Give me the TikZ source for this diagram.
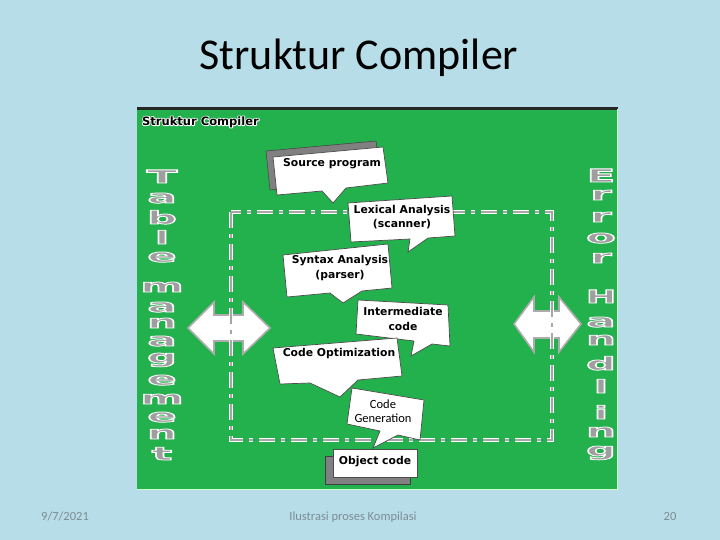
\documentclass[tikz,border=0pt]{standalone}
\usepackage{fontspec}
\setmainfont{Carlito}
\newfontfamily\dejavu{DejaVu Sans}
\usepackage{graphicx}
\newcommand\outltext[2]{\special{pdf:literal direct 2 Tr #1 w 1 1 1 RG}#2\special{pdf:literal direct 0 Tr}}
\newcommand\halotext[2]{\special{pdf:literal direct 1 Tr #1 w 1 1 1 RG 1 J 1 j}#2\special{pdf:literal direct 0 Tr}}
\definecolor{slidebg}{RGB}{183,221,232}
\definecolor{imggreen}{RGB}{34,177,76}
\definecolor{lettergray}{RGB}{158,158,158}
\definecolor{shadowgray}{RGB}{128,128,128}
\definecolor{footgray}{RGB}{125,140,148}
\tikzset{
  callout/.style={fill=white, draw=gray!60!black, line width=0.7pt},
  shadowbox/.style={fill=shadowgray, draw=gray!50!black, line width=0.5pt},
  ctext/.style={font=\dejavu\bfseries\fontsize{10.8}{14.5}\selectfont, align=center, inner sep=0pt, text=black},
  gtext/.style={font=\fontsize{12.5}{14.5}\selectfont, align=center, inner sep=0pt, text=black},
  bigarrow/.style={fill=white, draw=gray!65, line width=1.6pt, line join=miter},
  dashout/.style={draw=white, line width=4.4pt, dash pattern=on 16pt off 6pt on 4pt off 6pt},
  dashin/.style={draw=gray!70, line width=2pt, dash pattern=on 16pt off 6pt on 4pt off 6pt},
  vletter/.style={font=\dejavu\bfseries\fontsize{18}{20}\selectfont, text=lettergray, inner sep=0pt, anchor=base},
  foot/.style={font=\fontsize{12.5}{14}\selectfont, text=footgray, anchor=base, inner sep=0pt},
  innerlabel/.style={font=\dejavu\bfseries\fontsize{11.5}{14}\selectfont, anchor=west, inner sep=0pt}
}
\begin{document}
\begin{tikzpicture}[x=1pt,y=-1pt]
\useasboundingbox (0,0) rectangle (720,540);
\fill[slidebg] (0,0) rectangle (720,540);
% title
\node[font=\fontsize{44}{50}\selectfont, anchor=base, inner sep=0pt] (title) at (359,70) {Struktur Compiler};
% picture area
\fill[imggreen] (137,108) rectangle (618,490);
\draw[black!85, line width=2.5pt] (137,108.5) -- (618,108.5);
\draw[green!20!white, line width=1pt] (137,489.5) -- (618,489.5);
\draw[green!15!white, line width=1pt] (617.5,109) -- (617.5,490);
% inner label: white halo under black text
\node[innerlabel, text=white] (innerhalo) at (142,122) {\halotext{1.8}{Struktur Compiler}};
\node[innerlabel] (inner) at (142,122) {Struktur Compiler};
% double arrows
\draw[bigarrow] (188,328) -- (214,302) -- (214,315) -- (243,315) -- (243,302) -- (270,328)
  -- (243,354) -- (243,341) -- (214,341) -- (214,354) -- cycle;
\coordinate (leftarrow) at (229,328);
\draw[bigarrow] (514,324) -- (534,297) -- (534,311) -- (559,311) -- (559,297) -- (581,324)
  -- (559,352) -- (559,338) -- (534,338) -- (534,352) -- cycle;
\coordinate (rightarrow) at (547,324);
% dash-dot frame
\draw[dashout] (231,212) rectangle (552,440);
\draw[dashin] (231,212) rectangle (552,440);
% 1 Source program
\draw[shadowbox] (266,151) -- (376,141) -- (381,177) -- (270,190) -- cycle;
\draw[callout] (273,157) -- (383,147) -- (388,183) -- (346,188) -- (333,203) -- (322,191) -- (277,195) -- cycle;
\node[ctext] (src) at (332,164) {Source program};
% 2 Lexical
\draw[callout] (348,203) -- (452,196) -- (455,236) -- (428,238) -- (408,252) -- (410,239) -- (351,242) -- cycle;
\node[ctext] (lex) at (402,217) {Lexical Analysis\\(scanner)};
% 3 Syntax
\draw[callout] (283,255) -- (388,244) -- (392,288) -- (362,291) -- (343,303) -- (330,293) -- (287,297) -- cycle;
\node[ctext] (syn) at (340,268) {Syntax Analysis\\(parser)};
% 4 Intermediate
\draw[callout] (358,300) -- (448,305) -- (450,346) -- (432,344) -- (411,356) -- (414,341) -- (356,334) -- cycle;
\node[ctext] (inter) at (403,319) {Intermediate\\code};
% 5 Code Optimization
\draw[callout] (273,348) -- (397,338) -- (402,376) -- (358,380) -- (340,397) -- (310,383) -- (280,384) -- cycle;
\node[ctext] (opt) at (339,354) {Code Optimization};
% 6 Code Generation
\draw[callout] (352,388) -- (424,400) -- (420,440) -- (398,435) -- (373,448) -- (380,431) -- (347,424) -- cycle;
\node[gtext] (gen) at (383,411) {Code\\Generation};
% 7 Object code
\draw[shadowbox] (325,456) rectangle (410,484);
\draw[callout] (333,449) rectangle (417,477);
\node[ctext] (obj) at (375,462) {Object code};
% Table management
\foreach \l/\y/\s [count=\i] in {T/183/2.5, a/203/2.4, b/224/2.3, l/244/2.2, e/262/2.4, m/292/2.3,
  a/312/2.4, n/328/2.3, a/346/2.4, g/363/2.3, e/385/2.4, m/404/2.3, e/422/2.4, n/439/2.3, t/460/2.4}
  \node[vletter] (tm\i) at (162,\y) {\scalebox{\s}[1]{\outltext{0.75}{\l}}};
% Error Handling
\foreach \l/\y/\s [count=\i] in {E/182/2.3, r/200/2.4, r/222/2.4, o/243/2.4, r/263/2.4, H/303/2.0,
  a/327/2.4, n/345/2.3, d/370/2.3, l/393/2.2, i/419/2.2, n/437/2.3, g/456/2.3}
  \node[vletter] (eh\i) at (601,\y) {\scalebox{\s}[1]{\outltext{0.75}{\l}}};
% footer
\node[foot] (date) at (65,520) {9/7/2021};
\node[foot] (caption) at (353,520) {Ilustrasi proses Kompilasi};
\node[foot] (page) at (670,520) {20};
\end{tikzpicture}
\end{document}
